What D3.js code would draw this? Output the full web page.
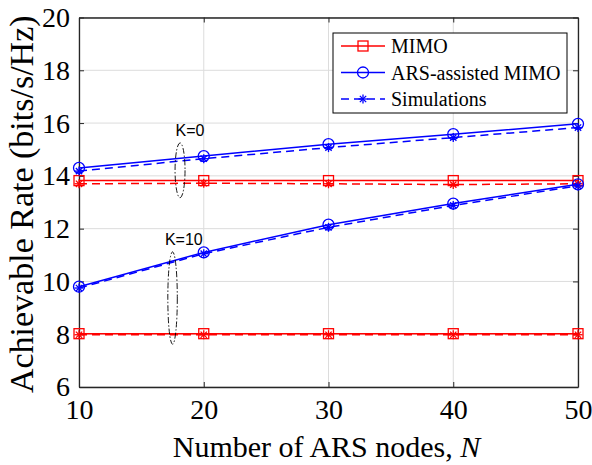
<!DOCTYPE html>
<html>
<head>
<meta charset="utf-8">
<script src="https://cdn.jsdelivr.net/npm/d3@7"></script>
<style>
  body { margin: 0; background: #fff; }
  svg { display: block; }
  text { font-family: "Liberation Serif", "Times New Roman", serif; fill: #000; }
</style>
</head>
<body>
<div id="chart"></div>
<script>
// data
const nodes = [10, 20, 30, 40, 50];
const xTicks = [10, 20, 30, 40, 50];
const yTicks = [6, 8, 10, 12, 14, 16, 18, 20];

// K = 0
const arsK0 = [14.3, 14.75, 15.2, 15.58, 15.97];
const arsSimK0 = [14.18, 14.65, 15.07, 15.45, 15.83];
const mimoK0 = [13.82, 13.82, 13.82, 13.82, 13.82];
const mimoSimK0 = [13.7, 13.72, 13.7, 13.67, 13.7];

// K = 10
const arsK10 = [9.8, 11.1, 12.15, 12.95, 13.68];
const arsSimK10 = [9.75, 11.05, 12.05, 12.88, 13.62];
const mimoK10 = [8.02, 8.02, 8.02, 8.02, 8.02];
const mimoSimK10 = [7.98, 7.98, 7.98, 7.98, 7.98];

const legendLabels = ["MIMO", "ARS-assisted MIMO", "Simulations"];

function makeChart() {
    const svgWidth = 592;
    const svgHeight = 465;
    const margin = { top: 17.5, right: 14, bottom: 78, left: 79 };
    const width = svgWidth - margin.left - margin.right;
    const height = svgHeight - margin.top - margin.bottom;
    const serif = "'Liberation Serif', 'Times New Roman', serif";

    const svg = d3.select("#chart").append("svg")
        .attr("width", svgWidth)
        .attr("height", svgHeight);

    const chart = svg.append("g")
        .attr("transform", `translate(${margin.left}, ${margin.top})`);

    const x = d3.scaleLinear().domain([10, 50]).range([0, width]);
    const y = d3.scaleLinear().domain([6, 20]).range([height, 0]);

    // grid
    chart.append("g").selectAll("line")
        .data(xTicks).enter().append("line")
        .attr("x1", d => x(d)).attr("x2", d => x(d))
        .attr("y1", 0).attr("y2", height)
        .attr("stroke", "#dcdcdc").attr("stroke-width", 1);
    chart.append("g").selectAll("line")
        .data(yTicks).enter().append("line")
        .attr("x1", 0).attr("x2", width)
        .attr("y1", d => y(d)).attr("y2", d => y(d))
        .attr("stroke", "#dcdcdc").attr("stroke-width", 1);

    // axes (MATLAB style box, ticks inside)
    const axisColor = "#262626";
    const xAxis = chart.append("g")
        .attr("transform", `translate(0, ${height})`)
        .call(d3.axisBottom(x).tickValues(xTicks).tickSizeInner(-5).tickSizeOuter(0).tickPadding(12));
    const yAxis = chart.append("g")
        .call(d3.axisLeft(y).tickValues(yTicks).tickSizeInner(-5).tickSizeOuter(0).tickPadding(9));
    chart.append("g")
        .call(d3.axisTop(x).tickValues(xTicks).tickSizeInner(-5).tickSizeOuter(0).tickFormat(""));
    chart.append("g")
        .attr("transform", `translate(${width}, 0)`)
        .call(d3.axisRight(y).tickValues(yTicks).tickSizeInner(-5).tickSizeOuter(0).tickFormat(""));

    chart.selectAll(".domain").attr("stroke", axisColor).attr("stroke-width", 1.3);
    chart.selectAll(".tick line").attr("stroke", axisColor);
    [xAxis, yAxis].forEach(a => {
        a.attr("font-family", serif).attr("font-size", 28);
        a.selectAll(".tick text")
            .attr("font-family", serif)
            .style("font-family", serif)
            .style("font-size", "28px")
            .attr("fill", "#000");
    });

    const line = d3.line()
        .x((d, i) => x(nodes[i]))
        .y(d => y(d));

    const series = [
        { values: mimoK0, color: "#ff0000", dash: null, marker: "square" },
        { values: mimoSimK0, color: "#ff0000", dash: "8,5", marker: "star" },
        { values: mimoK10, color: "#ff0000", dash: null, marker: "square" },
        { values: mimoSimK10, color: "#ff0000", dash: "8,5", marker: "star" },
        { values: arsK0, color: "#0000ff", dash: null, marker: "circle" },
        { values: arsSimK0, color: "#0000ff", dash: "8,5", marker: "star" },
        { values: arsK10, color: "#0000ff", dash: null, marker: "circle" },
        { values: arsSimK10, color: "#0000ff", dash: "8,5", marker: "star" }
    ];

    function drawMarker(g, type, cx, cy, color) {
        if (type === "square") {
            g.append("rect")
                .attr("x", cx - 5).attr("y", cy - 5)
                .attr("width", 10).attr("height", 10)
                .attr("fill", "none").attr("stroke", color).attr("stroke-width", 1.3);
        } else if (type === "circle") {
            g.append("circle")
                .attr("cx", cx).attr("cy", cy).attr("r", 5.5)
                .attr("fill", "none").attr("stroke", color).attr("stroke-width", 1.3);
        } else {
            const s = 4.5;
            const star = g.append("g").attr("stroke", color).attr("stroke-width", 1.3);
            star.append("line").attr("x1", cx - s).attr("x2", cx + s).attr("y1", cy).attr("y2", cy);
            star.append("line").attr("x1", cx).attr("x2", cx).attr("y1", cy - s).attr("y2", cy + s);
            const t = s * 0.7;
            star.append("line").attr("x1", cx - t).attr("x2", cx + t).attr("y1", cy - t).attr("y2", cy + t);
            star.append("line").attr("x1", cx - t).attr("x2", cx + t).attr("y1", cy + t).attr("y2", cy - t);
        }
    }

    series.forEach(s => {
        chart.append("path")
            .datum(s.values)
            .attr("d", line)
            .attr("fill", "none")
            .attr("stroke", s.color)
            .attr("stroke-width", 1.5)
            .attr("stroke-dasharray", s.dash);
        const mg = chart.append("g");
        s.values.forEach((v, i) => drawMarker(mg, s.marker, x(nodes[i]), y(v), s.color));
    });

    // annotations: dash-dot ellipses and K labels (data coordinates)
    const annots = [
        { label: "K=0", cx: 18.1, cy: 14.21, rx: 0.4, ry: 1.04, tx: 18.9, ty: 15.52 },
        { label: "K=10", cx: 17.5, cy: 9.37, rx: 0.38, ry: 1.75, tx: 18.4, ty: 11.38 }
    ];
    annots.forEach(a => {
        chart.append("ellipse")
            .attr("cx", x(a.cx)).attr("cy", y(a.cy))
            .attr("rx", x(a.cx + a.rx) - x(a.cx))
            .attr("ry", y(a.cy - a.ry) - y(a.cy))
            .attr("fill", "none").attr("stroke", "#000").attr("stroke-width", 0.9)
            .attr("stroke-dasharray", "6,2,1.5,2");
        chart.append("text")
            .attr("x", x(a.tx)).attr("y", y(a.ty))
            .attr("text-anchor", "middle")
            .style("font-family", "'Liberation Sans', Arial, sans-serif")
            .style("font-size", "16px")
            .text(a.label);
    });

    // legend
    const legend = svg.append("g").attr("transform", "translate(333, 33)");
    legend.append("rect")
        .attr("width", 234).attr("height", 80)
        .attr("fill", "#fff").attr("stroke", "#000").attr("stroke-width", 1);
    const legendItems = [
        { color: "#ff0000", dash: null, marker: "square" },
        { color: "#0000ff", dash: null, marker: "circle" },
        { color: "#0000ff", dash: "8,5", marker: "star" }
    ];
    legendItems.forEach((item, i) => {
        const ly = 13 + i * 26.5;
        legend.append("line")
            .attr("x1", 8).attr("x2", 52).attr("y1", ly).attr("y2", ly)
            .attr("stroke", item.color).attr("stroke-width", 1.5)
            .attr("stroke-dasharray", item.dash);
        drawMarker(legend, item.marker, 30, ly, item.color);
        legend.append("text")
            .attr("x", 58).attr("y", ly + 7)
            .style("font-family", serif)
            .style("font-size", "20px")
            .text(legendLabels[i]);
    });

    // axis titles
    svg.append("text")
        .attr("transform", `translate(33, ${margin.top + height / 2 + 2}) rotate(-90)`)
        .attr("text-anchor", "middle")
        .style("font-family", serif)
        .style("font-size", "34px")
        .text("Achievable Rate (bits/s/Hz)");

    const xl = svg.append("text")
        .attr("x", margin.left + width / 2 - 2)
        .attr("y", 457)
        .attr("text-anchor", "middle")
        .style("font-family", serif)
        .style("font-size", "30px");
    xl.append("tspan").text("Number of ARS nodes, ");
    xl.append("tspan").style("font-style", "italic").text("N");
}

makeChart();
</script>
</body>
</html>
